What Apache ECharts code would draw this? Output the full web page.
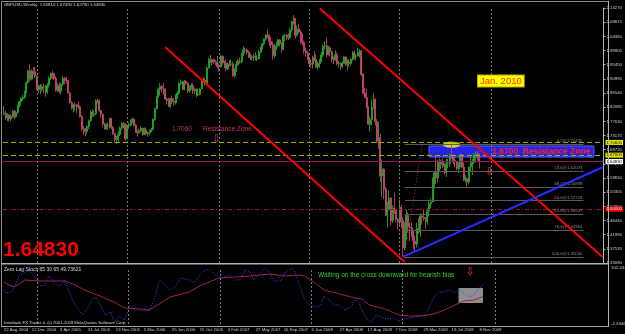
<!DOCTYPE html>
<html>
<head>
<meta charset="utf-8">
<script src="https://cdn.jsdelivr.net/npm/echarts@6/dist/echarts.min.js"></script>
<style>
  html, body { margin: 0; padding: 0; background: #000; }
  #chart { width: 625px; height: 334px; }
</style>
</head>
<body>
<div id="chart"></div>
<script>
// GBPUSD weekly, 22 Aug 2004 .. 22 Nov 2009
const firstOpen = 1.799;
const closes = [
  1.802,1.788,1.796,1.784,1.792,1.808,1.790,1.804,1.826,1.838,
  1.848,1.852,1.869,1.898,1.935,1.909,1.933,1.932,1.919,1.876,
  1.887,1.877,1.885,1.885,1.868,1.890,1.912,1.927,1.926,1.911,
  1.874,1.888,1.871,1.893,1.912,1.908,1.905,1.866,1.835,1.818,
  1.828,1.825,1.828,1.822,1.791,1.753,1.746,1.745,1.760,1.778,
  1.805,1.798,1.800,1.842,1.840,1.810,1.798,1.768,1.753,1.763,
  1.762,1.785,1.757,1.738,1.719,1.720,1.735,1.755,1.770,1.768,
  1.721,1.763,1.766,1.779,1.783,1.764,1.743,1.741,1.747,1.755,
  1.735,1.750,1.737,1.740,1.744,1.750,1.782,1.816,1.854,1.876,
  1.886,1.879,1.874,1.846,1.842,1.823,1.848,1.839,1.835,1.856,
  1.865,1.895,1.900,1.877,1.902,1.896,1.872,1.882,1.889,1.872,
  1.877,1.859,1.861,1.878,1.907,1.905,1.896,1.944,1.971,1.962,
  1.970,1.963,1.962,1.949,1.947,1.981,1.961,1.960,1.941,1.955,
  1.956,1.957,1.920,1.938,1.955,1.966,1.964,1.987,2.000,2.001,
  1.994,1.981,1.976,1.979,1.982,1.972,1.973,1.994,2.008,2.020,
  2.035,2.048,2.045,2.027,2.017,1.982,2.012,2.014,2.032,2.021,
  2.002,2.045,2.047,2.044,2.040,2.064,2.090,2.100,2.047,2.067,
  2.057,2.032,2.024,1.999,1.991,1.974,1.958,1.956,1.978,1.971,
  1.947,1.958,1.965,1.985,2.012,2.014,1.986,2.008,1.995,1.971,
  1.969,1.985,1.957,1.958,1.948,1.958,1.979,1.956,1.963,1.958,
  1.971,1.992,1.981,1.982,1.994,1.998,1.924,1.865,1.851,1.821,
  1.767,1.782,1.820,1.845,1.776,1.713,1.725,1.604,1.626,1.563,
  1.481,1.499,1.535,1.464,1.503,1.497,1.468,1.459,1.506,1.465,
  1.378,1.440,1.480,1.444,1.442,1.431,1.400,1.390,1.440,1.429,
  1.478,1.475,1.471,1.461,1.494,1.517,1.523,1.595,1.615,1.598,
  1.647,1.641,1.651,1.635,1.615,1.644,1.644,1.670,1.668,1.653,
  1.650,1.627,1.638,1.672,1.632,1.592,1.596,1.586,1.633,1.639,
  1.648,1.669,1.675,1.6581,1.6483
];
const highs = [
  1.824,1.810,1.801,1.799,1.799,1.812,1.813,1.809,1.829,1.842,
  1.852,1.860,1.873,1.902,1.939,1.955,1.940,1.946,1.948,1.920,
  1.892,1.894,1.892,1.895,1.890,1.896,1.917,1.930,1.936,1.930,
  1.918,1.895,1.899,1.896,1.920,1.916,1.916,1.906,1.869,1.839,
  1.830,1.836,1.831,1.839,1.826,1.795,1.762,1.756,1.764,1.782,
  1.812,1.815,1.809,1.846,1.849,1.845,1.812,1.800,1.772,1.770,
  1.773,1.788,1.787,1.761,1.739,1.730,1.745,1.760,1.774,1.774,
  1.769,1.768,1.773,1.783,1.788,1.785,1.769,1.748,1.753,1.760,
  1.756,1.757,1.756,1.745,1.750,1.756,1.786,1.819,1.856,1.882,
  1.896,1.890,1.897,1.880,1.852,1.850,1.850,1.857,1.849,1.862,
  1.871,1.899,1.908,1.904,1.906,1.905,1.900,1.889,1.896,1.896,
  1.880,1.880,1.879,1.882,1.910,1.915,1.914,1.948,1.977,1.985,
  1.974,1.973,1.969,1.982,1.959,1.985,1.984,1.967,1.970,1.960,
  1.969,1.970,1.964,1.943,1.966,1.973,1.978,1.991,2.013,2.008,
  2.006,1.998,1.990,1.985,1.988,1.993,1.984,2.000,2.011,2.022,
  2.037,2.050,2.065,2.050,2.042,2.028,2.020,2.027,2.036,2.035,
  2.024,2.047,2.051,2.050,2.053,2.070,2.093,2.110,2.100,2.078,
  2.084,2.063,2.052,2.030,2.008,1.998,1.979,1.972,1.983,1.997,
  1.987,1.965,1.972,1.995,2.017,2.027,2.040,2.014,2.012,1.999,
  1.980,2.000,1.993,1.966,1.962,1.964,1.981,1.980,1.971,1.971,
  1.975,1.997,1.999,1.989,2.007,2.004,1.999,1.928,1.881,1.879,
  1.823,1.792,1.844,1.864,1.849,1.783,1.774,1.737,1.656,1.630,
  1.570,1.524,1.558,1.536,1.512,1.552,1.499,1.472,1.530,1.514,
  1.476,1.459,1.499,1.490,1.457,1.460,1.435,1.417,1.458,1.472,
  1.487,1.481,1.500,1.474,1.503,1.528,1.533,1.600,1.620,1.666,
  1.656,1.660,1.657,1.660,1.645,1.659,1.659,1.674,1.7043,1.672,
  1.664,1.650,1.647,1.674,1.674,1.646,1.608,1.600,1.634,1.669,
  1.658,1.676,1.680,1.683,1.6749
];
const lows = [
  1.795,1.780,1.777,1.776,1.776,1.787,1.783,1.788,1.800,1.820,
  1.825,1.841,1.847,1.864,1.895,1.902,1.905,1.924,1.912,1.874,
  1.865,1.862,1.869,1.865,1.854,1.862,1.882,1.906,1.910,1.906,
  1.870,1.867,1.864,1.862,1.887,1.893,1.895,1.863,1.832,1.813,
  1.804,1.810,1.801,1.815,1.788,1.746,1.733,1.729,1.738,1.752,
  1.774,1.791,1.790,1.795,1.832,1.805,1.788,1.760,1.750,1.750,
  1.749,1.753,1.752,1.734,1.709,1.705,1.711,1.730,1.748,1.754,
  1.715,1.720,1.753,1.760,1.770,1.760,1.740,1.728,1.738,1.742,
  1.731,1.733,1.732,1.728,1.732,1.742,1.749,1.778,1.814,1.850,
  1.857,1.866,1.860,1.843,1.829,1.821,1.819,1.830,1.824,1.829,
  1.847,1.860,1.890,1.875,1.874,1.890,1.865,1.866,1.876,1.863,
  1.862,1.852,1.856,1.858,1.878,1.897,1.890,1.895,1.943,1.959,
  1.952,1.956,1.953,1.943,1.933,1.946,1.954,1.944,1.935,1.937,
  1.949,1.949,1.916,1.914,1.932,1.950,1.958,1.958,1.982,1.990,
  1.987,1.976,1.970,1.968,1.966,1.968,1.965,1.972,1.990,2.002,
  2.015,2.030,2.039,2.015,2.006,1.970,1.975,2.000,2.010,2.012,
  1.992,2.000,2.028,2.032,2.032,2.036,2.058,2.081,2.038,2.043,
  2.052,2.020,2.015,1.989,1.979,1.968,1.952,1.945,1.942,1.964,
  1.944,1.939,1.945,1.962,1.978,2.002,1.978,1.983,1.981,1.962,
  1.956,1.967,1.952,1.945,1.938,1.945,1.956,1.950,1.936,1.948,
  1.951,1.967,1.971,1.969,1.982,1.977,1.918,1.862,1.850,1.817,
  1.765,1.745,1.764,1.816,1.763,1.708,1.690,1.585,1.537,1.532,
  1.479,1.442,1.495,1.448,1.457,1.485,1.459,1.435,1.448,1.440,
  1.350,1.371,1.403,1.426,1.400,1.412,1.375,1.368,1.380,1.422,
  1.413,1.451,1.464,1.439,1.451,1.477,1.502,1.523,1.566,1.579,
  1.586,1.620,1.626,1.630,1.607,1.601,1.628,1.633,1.658,1.642,
  1.632,1.622,1.614,1.632,1.629,1.588,1.584,1.570,1.577,1.619,
  1.608,1.642,1.646,1.653,1.6279
];

const dateLabels = ['22 Aug 2004','12 Dec 2004','3 Apr 2005','24 Jul 2005','13 Nov 2005','5 Mar 2006',
  '25 Jun 2006','15 Oct 2006','4 Feb 2007','27 May 2007','16 Sep 2007','6 Jan 2008','27 Apr 2008',
  '17 Aug 2008','7 Dec 2008','29 Mar 2009','19 Jul 2009','8 Nov 2009'];
const priceTicks = ['1.33080','1.37535','1.41990','1.46445','1.50900','1.55355','1.59810','1.64265',
  '1.68720','1.73175','1.77630','1.82085','1.86540','1.90995','1.95450','1.99905','2.04360','2.08815','2.13270'];
const yearStarts = [19, 71, 124, 176, 228, 281];

// fibonacci retracement of the Jan 2009 low -> Aug 2009 high
const fibPrices = [1.70435, 1.62073, 1.56899, 1.52718, 1.48537, 1.43364, 1.35000];
const fibTags = ['0.0@1.70435','23.6@1.62073','38.2@1.56899','50.0@1.52718','61.8@1.48537','76.4@1.43364','100.0@1.35000'];
const fibSpan = [231, 334];
const fibRay = [[231, 1.352], [241, 1.704]];

// hand drawn lines
const channelUpper = [[182, 2.131], [345, 1.350]];
const channelLower = [[93, 2.009], [231, 1.334]];
const supportLine = [[230, 1.350], [345, 1.632]];
const resistBox = [[245, 1.6987], [340, 1.6641]];
const topMarker = [258, 1.703];

// Zero Lag Stoch (main dotted, signal solid)
const stochIdx = [0,1,5,9,15,18,21,23,26,29,32,35,38,41,45,48,51,53,55,58,61,63,66,69,72,75,81,83,86,89,
  92,95,98,101,106,109,112,115,118,121,125,129,132,135,138,141,143,147,149,152,155,159,161,165,167,169,172,175,178,181,
  183,186,189,192,195,198,201,203,206,208,210,213,216,219,223,226,229,232,238,241,243,246,249,252,255,258,261,263,266,269,272,274];
const stochMain = [60.7,55.4,58.9,87.5,96.4,82.1,67.9,67.9,85.7,71.4,67.9,78.6,51.8,33.9,16.1,28.6,46.4,46.4,33.9,16.1,
  21.4,3.6,14.3,7.1,33.9,25.0,23.2,23.2,42.9,78.6,69.6,60.7,66.1,82.1,78.6,73.2,87.5,96.4,96.4,87.5,
  82.1,87.5,78.6,78.6,96.4,92.9,78.6,92.9,100,92.9,75.0,78.6,92.9,100,89.3,69.6,42.9,33.9,30.4,32.1,
  50.0,42.9,33.9,33.9,25.0,28.6,42.9,39.3,16.1,7.1,3.6,16.1,12.5,8.9,10.7,5.4,8.9,10.7,14.3,16.1,
  28.6,48.2,57.1,57.1,60.7,57.1,60.7,55.4,48.2,51.8,64.3,69.6];
const signalIdx = [0,3,6,12,21,26,35,41,46,55,63,69,78,83,88,95,106,112,123,141,152,161,169,172,178,183,192,201,205,209,
  218,226,232,238,246,252,258,263,269,272,274];
const signalVals = [75.0,69.6,66.1,78.6,76.8,76.8,76.8,69.6,60.7,50.0,39.3,28.6,26.8,25.0,33.9,48.2,57.1,67.9,82.1,85.7,
  89.3,85.7,87.5,85.7,73.2,60.7,53.6,46.4,44.6,33.9,26.8,16.1,14.3,14.3,17.9,25.0,33.9,41.1,42.9,46.4,49.7];
const crossBox = [[260, 64.3], [274, 37.5]];

const FONT = '"Liberation Sans", Arial, sans-serif';
const SLOTS = 346;
const slots = Array.from({ length: SLOTS }, (_, i) => i);

// weekly bars open where the previous one closed
const candles = closes.map((c, i) => [i === 0 ? firstOpen : closes[i - 1], c, lows[i], highs[i]]);

const chart = echarts.init(document.getElementById('chart'));

const tag = (text, bg, fg) => ({
  show: true, position: 'end', distance: 2, formatter: text,
  color: fg, backgroundColor: bg, padding: [1, 1, 0, 1], fontSize: 4.3, fontFamily: FONT
});

const levelLines = [
  { yAxis: 1.7060, lineStyle: { color: '#a8a800', type: [5, 3], width: 1 }, label: tag('1.70600', '#e8e800', '#000') },
  { yAxis: 1.6700, lineStyle: { color: '#a8a800', type: [5, 3], width: 1 }, label: tag('1.67000', '#e8e800', '#000') },
  { yAxis: 1.6483, lineStyle: { color: '#8b1a6b', type: 'solid', width: 1 }, label: tag('1.64830', '#ffffff', '#000') },
  { yAxis: 1.5000, lineStyle: { color: '#a0143c', type: [4, 2, 1, 2], width: 1 }, label: tag('1.50000', '#ff0000', '#ffd0d0') }
];

const fibLines = fibPrices.map((p, k) => [
  {
    coord: [fibSpan[0], p],
    lineStyle: { color: '#5a5a5a', type: 'solid', width: 1 },
    label: { show: true, position: 'insideEndTop', formatter: fibTags[k], color: '#8c8c8c', fontSize: 4.3, fontFamily: FONT, distance: 1 }
  },
  { coord: [fibSpan[1], p] }
]);

const separators = (color) => ({
  silent: true, symbol: ['none', 'none'], animation: false,
  label: { show: false },
  lineStyle: { color: color, type: [2, 2], width: 1 },
  data: yearStarts.map(i => ({ xAxis: i }))
});

const trend = (pts, color, width, type, z) => ({
  type: 'line', xAxisIndex: 0, yAxisIndex: 0, data: pts, symbol: 'none', silent: true,
  lineStyle: { color: color, width: width, type: type }, z: z, animation: false
});

const option = {
  backgroundColor: '#000',
  animation: false,
  grid: [
    { left: 3, right: 17, top: 8, height: 255 },
    { left: 3, right: 17, top: 268, height: 56 }
  ],
  xAxis: [
    { type: 'category', gridIndex: 0, data: slots, show: false },
    {
      type: 'category', gridIndex: 1, data: slots,
      axisLine: { show: false }, axisTick: { show: false }, splitLine: { show: false },
      axisLabel: {
        interval: 15, align: 'left', fontSize: 4.3, fontFamily: FONT, color: '#c8c8c8', margin: 4,
        formatter: (v, idx) => dateLabels[idx / 16] || ''
      }
    }
  ],
  yAxis: [
    { type: 'value', gridIndex: 0, min: 1.3308, max: 2.1327, show: false, position: 'left' },
    {
      type: 'value', gridIndex: 0, min: 0, max: 18, interval: 1, position: 'right',
      axisLine: { show: true, lineStyle: { color: '#b4b4b4' } },
      axisTick: { show: true, length: 2, lineStyle: { color: '#b4b4b4' } },
      splitLine: { show: false },
      axisLabel: { fontSize: 4.3, fontFamily: FONT, color: '#d0d0d0', margin: 3, formatter: v => priceTicks[v] }
    },
    { type: 'value', gridIndex: 1, min: 0, max: 100, show: false }
  ],
  series: [
    {
      type: 'line', xAxisIndex: 0, yAxisIndex: 0, data: [], z: 1, silent: true,
      markArea: {
        silent: true,
        itemStyle: { color: '#2424e4', borderColor: '#6060ff', borderWidth: 1 },
        label: {
          show: true, position: 'insideRight', distance: 4, formatter: '1.6700  Resistance Zone',
          color: '#ff2020', fontWeight: 'bold', fontSize: 8.5, fontFamily: FONT
        },
        data: [[{ coord: resistBox[0] }, { coord: resistBox[1] }]]
      },
      markLine: separators('#7a7a7a')
    },
    {
      type: 'scatter', xAxisIndex: 0, yAxisIndex: 0, data: [topMarker], symbol: 'circle',
      symbolSize: [17, 6], silent: true, z: 2,
      itemStyle: { color: '#ffff00', borderColor: '#a0a0a0', borderWidth: 0.6 }
    },
    {
      type: 'candlestick', xAxisIndex: 0, yAxisIndex: 0, data: candles, barWidth: 1.5, z: 3, silent: true,
      itemStyle: { color: '#2fbf2f', color0: '#f57f7f', borderColor: '#22a522', borderColor0: '#c0446a', borderWidth: 0.9 },
      markLine: {
        silent: true, symbol: ['none', 'none'], animation: false,
        data: [...levelLines, ...fibLines]
      }
    },
    trend(fibRay, '#a0304a', 1, [1, 2], 4),
    trend(channelUpper, '#ff0000', 2, 'solid', 5),
    trend(channelLower, '#ff0000', 2, 'solid', 5),
    trend(supportLine, '#2b2bff', 2, 'solid', 5),
    {
      type: 'line', xAxisIndex: 1, yAxisIndex: 2, data: [], z: 1, silent: true,
      markArea: {
        silent: true, itemStyle: { color: '#8e8e8e' },
        data: [[{ coord: crossBox[0] }, { coord: crossBox[1] }]]
      },
      markLine: separators('#7a7a7a')
    },
    {
      type: 'line', xAxisIndex: 1, yAxisIndex: 2, z: 3, symbol: 'none', silent: true,
      data: signalIdx.map((x, k) => [x, signalVals[k]]),
      lineStyle: { color: '#a01e5a', width: 1 }
    },
    {
      type: 'line', xAxisIndex: 1, yAxisIndex: 2, z: 4, symbol: 'none', silent: true,
      data: stochIdx.map((x, k) => [x, stochMain[k]]),
      lineStyle: { color: '#2e46ff', width: 1, type: [1, 1.5] }
    }
  ],
  graphic: [
    // window frame
    { type: 'line', z: 50, shape: { x1: 1, y1: 1.5, x2: 608, y2: 1.5 }, style: { stroke: '#8a8a8a', lineWidth: 1 } },
    { type: 'line', z: 50, shape: { x1: 1.5, y1: 1, x2: 1.5, y2: 327 }, style: { stroke: '#8a8a8a', lineWidth: 1 } },
    { type: 'rect', z: 50, shape: { x: 1, y: 263, width: 607, height: 1.6 }, style: { fill: '#b0b0b0' } },
    { type: 'line', z: 50, shape: { x1: 1, y1: 326.5, x2: 608.5, y2: 326.5 }, style: { stroke: '#a0a0a0', lineWidth: 1 } },
    { type: 'line', z: 50, shape: { x1: 608.5, y1: 1, x2: 608.5, y2: 327 }, style: { stroke: '#b4b4b4', lineWidth: 1 } },
    // texts
    { type: 'text', z: 60, x: 4, y: 4.5, style: { text: 'GBPUSD,Weekly  1.65810 1.67490 1.62790 1.64830', fill: '#d8d8d8', font: '4.3px ' + FONT, verticalAlign: 'middle' } },
    { type: 'text', z: 60, x: 4, y: 269.5, style: { text: 'Zero Lag Stoch 65 30 65 49.73621', fill: '#d8d8d8', font: '5px ' + FONT, verticalAlign: 'middle' } },
    { type: 'text', z: 60, x: 4, y: 322.5, style: { text: 'Interbank FX Trader 4, (c) 2001-2009 MetaQuotes Software Corp.', fill: '#d8d8d8', font: '4.2px ' + FONT, verticalAlign: 'middle' } },
    { type: 'text', z: 60, x: 611, y: 268, style: { text: '102.3346', fill: '#d0d0d0', font: '4.3px ' + FONT, verticalAlign: 'middle' } },
    { type: 'text', z: 60, x: 611, y: 324, style: { text: '-2.3346', fill: '#d0d0d0', font: '4.3px ' + FONT, verticalAlign: 'middle' } },
    { type: 'text', z: 60, x: 3, y: 250, style: { text: '1.64830', fill: '#ff0000', font: 'bold 21px ' + FONT, verticalAlign: 'middle' } },
    { type: 'text', z: 60, x: 172, y: 129.5, style: { text: '1.7060', fill: '#c8385a', font: '6.5px ' + FONT, verticalAlign: 'middle' } },
    { type: 'text', z: 60, x: 203, y: 129.5, style: { text: 'Resistance Zone', fill: '#c8385a', font: '6.5px ' + FONT, verticalAlign: 'middle' } },
    { type: 'text', z: 60, x: 216.5, y: 139.5, style: { text: '\u21E9', fill: '#d04066', font: '10px "DejaVu Sans"', align: 'center', verticalAlign: 'middle' } },
    { type: 'text', z: 60, x: 489.5, y: 172, style: { text: '\u21E9', fill: '#ff3030', font: '11px "DejaVu Sans"', align: 'center', verticalAlign: 'middle' } },
    { type: 'text', z: 60, x: 470, y: 272, style: { text: '\u21E9', fill: '#ff3030', font: '11px "DejaVu Sans"', align: 'center', verticalAlign: 'middle' } },
    { type: 'text', z: 60, x: 318, y: 275.5, style: { text: 'Waiting on the cross downward for bearish bias', fill: '#33cc33', font: '6.5px ' + FONT, verticalAlign: 'middle' } },
    {
      type: 'text', z: 60, x: 478, y: 81,
      style: {
        text: 'Jan. 2010', fill: '#ff2a00', font: '9.5px ' + FONT, verticalAlign: 'middle',
        backgroundColor: '#ffff00', borderColor: '#b0b000', borderWidth: 1, padding: [1, 2, 0, 2]
      }
    }
  ]
};

chart.setOption(option);
</script>
</body>
</html>
